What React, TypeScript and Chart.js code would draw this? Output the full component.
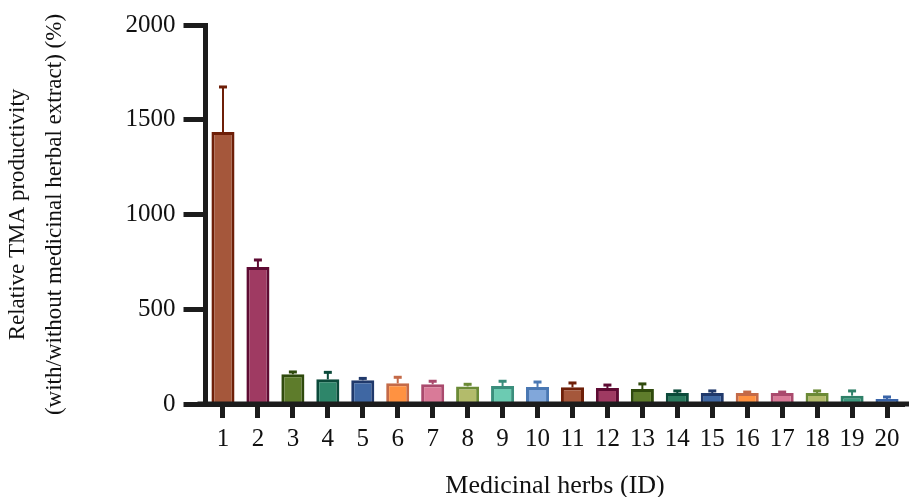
import React, { useEffect, useRef } from "react";
import { Chart, registerables } from "chart.js";

Chart.register(...registerables);

const herbIds = ["1","2","3","4","5","6","7","8","9","10","11","12","13","14","15","16","17","18","19","20"];
const meanValues = [1435, 723, 157, 130, 125, 109, 104, 93, 95, 90, 88, 84, 79, 58, 58, 58, 58, 58, 44, 26];
const errValues = [238, 37, 12, 37, 10, 32, 16, 11, 25, 26, 23, 16, 27, 11, 11, 5, 5, 11, 25, 11];
const yTicks = [0, 500, 1000, 1500, 2000];
const fillColors = [
  "#A5573B","#9F3A62","#5E7C2B","#2E866A","#3F67A3","#FF9241","#D97A98","#B3BB6B","#6CCBB2","#81A7DA",
  "#A5573B","#9F3A62","#5E7C2B","#2A7A5E","#3F67A3","#FF9241","#D97A98","#B3BB6B","#3E9A80","#4A72B2"
];
const borderColors = [
  "#6E1F08","#5E0B33","#2F4A0C","#0B4A3A","#20396B","#C46A48","#AA4A6D","#6B8A36","#3A8E7C","#4A78B3",
  "#6E1F08","#5E0B33","#2F4A0C","#0B4A3A","#20396B","#C46A48","#AA4A6D","#6B8A36","#2E8068","#3A64A8"
];

const AXIS = "#1c1c1c";
const FONT = "'Liberation Serif', 'Times New Roman', serif";

const errorBarPlugin = {
  id: "errorBars",
  afterDatasetsDraw(chart: any) {
    const ctx = chart.ctx;
    const meta = chart.getDatasetMeta(0);
    const yScale = chart.scales.y;
    ctx.save();
    meta.data.forEach((bar: any, i: number) => {
      const top = yScale.getPixelForValue(meanValues[i] + errValues[i]);
      const x = bar.x;
      ctx.strokeStyle = borderColors[i];
      ctx.lineWidth = 2;
      ctx.beginPath();
      ctx.moveTo(x, bar.y);
      ctx.lineTo(x, top);
      ctx.stroke();
      ctx.lineWidth = 3;
      ctx.beginPath();
      ctx.moveTo(x - 4, top);
      ctx.lineTo(x + 4, top);
      ctx.stroke();
    });
    ctx.restore();
  },
};

const axisExtendPlugin = {
  id: "axisExtend",
  afterDraw(chart: any) {
    const ctx = chart.ctx;
    const area = chart.chartArea;
    const y0 = chart.scales.y.getPixelForValue(0);
    ctx.save();
    ctx.strokeStyle = AXIS;
    ctx.lineWidth = 5;
    ctx.beginPath();
    ctx.moveTo(area.left - 8, y0);
    ctx.lineTo(chart.width, y0);
    ctx.stroke();
    ctx.restore();
  },
};

export default function App() {
  const ref = useRef<HTMLCanvasElement | null>(null);
  useEffect(() => {
    if (!ref.current) return;
    const chart = new Chart(ref.current, {
      type: "bar",
      data: {
        labels: herbIds,
        datasets: [
          {
            data: meanValues,
            backgroundColor: fillColors,
            borderColor: borderColors,
            borderWidth: 3,
            barPercentage: 0.66,
            categoryPercentage: 1,
          },
        ],
      },
      options: {
        responsive: false,
        animation: false,
        layout: { padding: { top: 25, right: 4.5, left: 0, bottom: 0 } },
        plugins: { legend: { display: false }, tooltip: { enabled: false } },
        scales: {
          x: {
            z: 1,
            offset: true,
            grid: {
              offset: false,
              drawOnChartArea: false,
              drawTicks: true,
              tickLength: 14,
              tickWidth: 5,
              tickColor: AXIS,
            },
            border: { display: true, width: 5, color: AXIS },
            ticks: {
              color: "#111",
              padding: 6,
              maxRotation: 0,
              autoSkip: false,
              font: { family: FONT, size: 25 },
            },
            title: {
              display: true,
              text: "Medicinal herbs (ID)",
              color: "#111",
              padding: 0,
              font: { family: FONT, size: 26, lineHeight: 0.85 },
            },
            afterFit(scale: any) {
              scale.height = 93;
            },
          },
          y: {
            z: 1,
            min: 0,
            max: 2000,
            afterBuildTicks(scale: any) {
              scale.ticks = yTicks.map((v) => ({ value: v }));
            },
            grid: {
              drawOnChartArea: false,
              drawTicks: true,
              tickLength: 22,
              tickWidth: 5,
              tickColor: AXIS,
            },
            border: { display: true, width: 5, color: AXIS },
            ticks: {
              color: "#111",
              padding: 8,
              font: { family: FONT, size: 25 },
              callback: (v: any) => String(v),
            },
            title: {
              display: true,
              text: ["Relative TMA productivity", "(with/without medicinal herbal extract) (%)"],
              color: "#111",
              padding: 0,
              font: { family: FONT, size: 23, lineHeight: 1.6 },
            },
            afterFit(scale: any) {
              scale.width = 205.5;
            },
          },
        },
      },
      plugins: [errorBarPlugin, axisExtendPlugin],
    } as any);
    return () => chart.destroy();
  }, []);
  return (
    <div style={{ position: "absolute", left: 0, top: 0, width: 909, height: 497, background: "#fff" }}>
      <canvas ref={ref} width={909} height={497} />
    </div>
  );
}
